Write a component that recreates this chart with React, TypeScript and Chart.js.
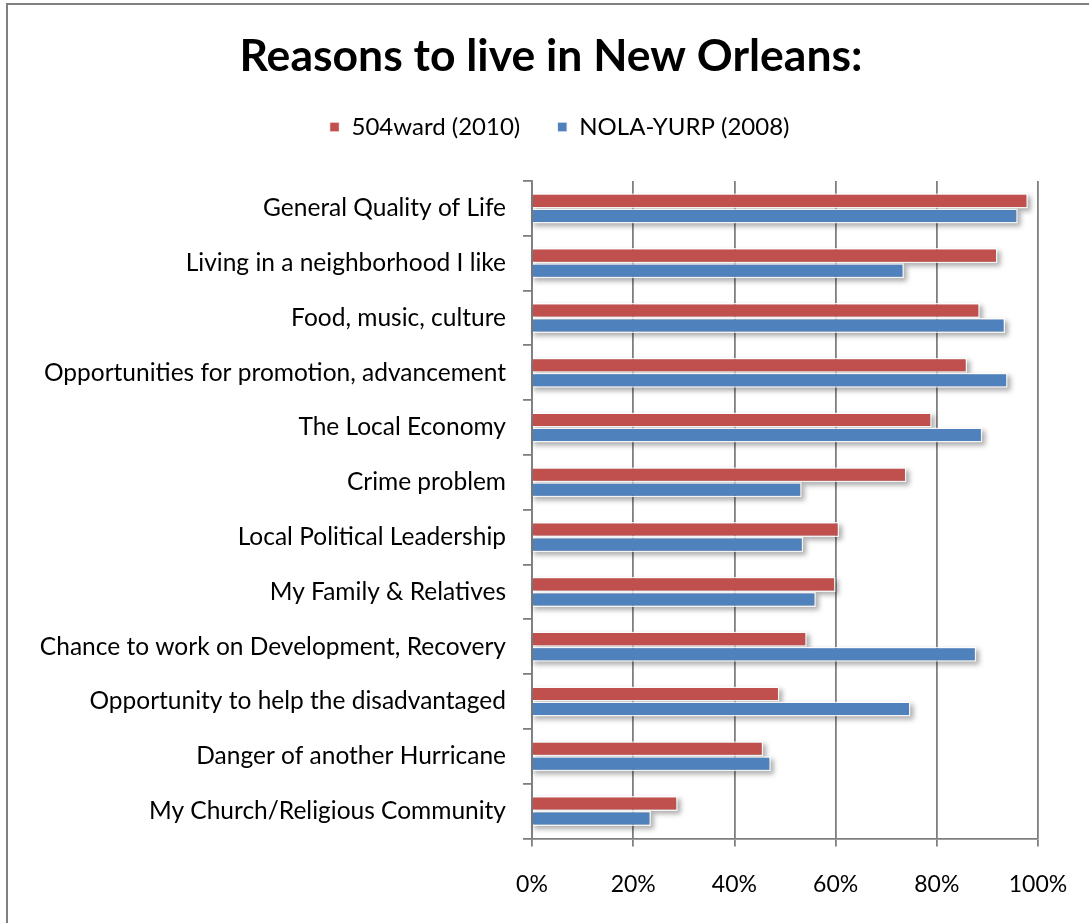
import React, { useEffect, useRef } from "react";
import { Chart, registerables } from "chart.js";

Chart.register(...registerables);

const categories = [
  "General Quality of Life",
  "Living in a neighborhood I like",
  "Food, music, culture",
  "Opportunities for promotion, advancement",
  "The Local Economy",
  "Crime problem",
  "Local Political Leadership",
  "My Family & Relatives",
  "Chance to work on Development, Recovery",
  "Opportunity to help the disadvantaged",
  "Danger of another Hurricane",
  "My Church/Religious Community",
];

const ward504_2010 = [98, 92, 88.5, 86, 79, 74, 60.7, 60, 54.3, 48.9, 45.7, 28.8];
const nolaYurp_2008 = [96, 73.5, 93.5, 94, 89, 53.3, 53.6, 56.1, 87.8, 74.8, 47.2, 23.5];

const xTicks = [0, 20, 40, 60, 80, 100];

const FONT = "Lato, 'Open Sans', sans-serif";

const shadowPlugin = {
  id: "barShadow",
  beforeDatasetsDraw(chart: any) {
    const ctx = chart.ctx;
    ctx.save();
    ctx.fillStyle = "rgba(0,0,0,0.32)";
    ctx.filter = "blur(2.5px)";
    chart.data.datasets.forEach((_d: any, di: number) => {
      const meta = chart.getDatasetMeta(di);
      meta.data.forEach((el: any) => {
        const p = el.getProps(["x", "y", "base", "height"], true);
        const left = Math.min(p.base, p.x);
        const w = Math.abs(p.x - p.base);
        ctx.fillRect(left + 1, p.y - p.height / 2 + 3, w + 2, p.height);
      });
    });
    ctx.restore();
  },
};

const headerPlugin = {
  id: "headerPlace",
  afterInit(chart: any) {
    const legend = chart.legend;
    if (!legend) return;
    const orig = legend.fit;
    legend.fit = function () {
      orig.call(this);
      this.height += 25;
    };
  },
  afterLayout(chart: any) {
    const t = chart.titleBlock;
    if (t) t.left = 64;
    const l = chart.legend;
    if (l) {
      l.left = 81;
      l.top = 78;
    }
  },
};

export default function App() {
  const ref = useRef<HTMLCanvasElement>(null);

  useEffect(() => {
    if (!ref.current) return;
    const chart = new Chart(ref.current, {
      type: "bar",
      data: {
        labels: categories,
        datasets: [
          {
            label: "504ward (2010)",
            data: ward504_2010,
            backgroundColor: "#C0504D",
            borderColor: "rgba(255,255,255,0.85)",
            borderWidth: 1.5,
            categoryPercentage: 0.55,
            barPercentage: 1,
          },
          {
            label: "NOLA-YURP (2008)",
            data: nolaYurp_2008,
            backgroundColor: "#4F81BD",
            borderColor: "rgba(255,255,255,0.85)",
            borderWidth: 1.5,
            categoryPercentage: 0.55,
            barPercentage: 1,
          },
        ],
      },
      options: {
        indexAxis: "y",
        animation: false,
        responsive: false,
        maintainAspectRatio: false,
        layout: { padding: { left: 0, right: 64, top: 0, bottom: 1 } },
        plugins: {
          title: {
            display: true,
            text: "Reasons to live in New Orleans:",
            color: "#000",
            font: { family: FONT, size: 44.5, weight: "bold" },
            padding: { top: 30.3, bottom: 1.3 },
          },
          legend: {
            display: true,
            labels: {
              color: "#000",
              font: { family: FONT, size: 24 },
              boxWidth: 10,
              boxHeight: 10,
              padding: 37,
            },
          },
          tooltip: { enabled: false },
        },
        scales: {
          x: {
            type: "linear",
            min: 0,
            max: 100,
            afterBuildTicks(scale: any) {
              scale.ticks = xTicks.map((v) => ({ value: v }));
            },
            ticks: {
              color: "#000",
              font: { family: FONT, size: 23 },
              padding: 24,
              callback: (v: any) => v + "%",
            },
            grid: {
              color: "#7f7f7f",
              lineWidth: 1.8,
              tickLength: 8,
            },
            border: { color: "#7f7f7f", width: 1.8 },
          },
          y: {
            type: "category",
            afterFit(scale: any) {
              scale.width = 532;
            },
            ticks: {
              color: "#000",
              font: { family: FONT, size: 24.5 },
              padding: 17,
              autoSkip: false,
            },
            grid: {
              color: "#7f7f7f",
              lineWidth: 1.8,
              drawOnChartArea: false,
              tickLength: 9,
            },
            border: { color: "#7f7f7f", width: 1.8 },
          },
        },
      },
      plugins: [shadowPlugin, headerPlugin],
    } as any);
    return () => chart.destroy();
  }, []);

  return (
    <div
      style={{
        position: "absolute",
        left: 0,
        top: 0,
        width: 1089,
        height: 923,
        overflow: "hidden",
        background: "#fff",
      }}
    >
      <div
        style={{
          position: "absolute",
          left: 6,
          top: 3,
          width: 2000,
          height: 2000,
          borderLeft: "2px solid #808080",
          borderTop: "2px solid #808080",
        }}
      />
      <canvas
        ref={ref}
        width={1102}
        height={923}
        style={{ position: "absolute", left: 0, top: 0, width: 1102, height: 923 }}
      />
    </div>
  );
}
